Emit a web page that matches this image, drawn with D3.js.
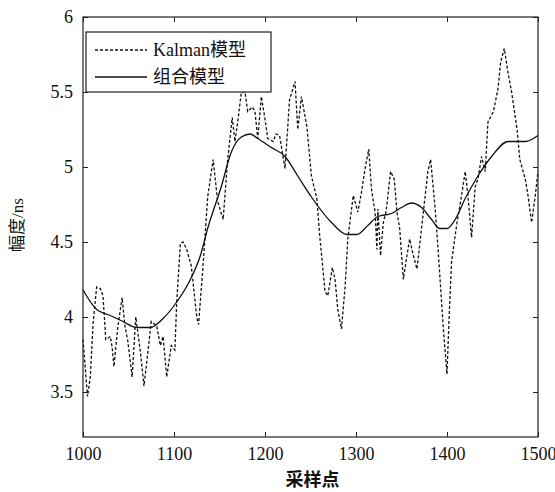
<!DOCTYPE html>
<html>
<head>
<meta charset="utf-8">
<script src="https://cdn.jsdelivr.net/npm/d3@7"></script>
<style>
body{margin:0;background:#fff}
text{font-family:"Liberation Serif","Times New Roman","Noto Sans CJK SC",serif}
</style>
</head>
<body>
<div id="graph1"></div>
<script>
// Kalman model (dashed)
var kalmanX = [1000,1005,1008,1011,1015,1019,1022,1025,1030,1032,1034,1038,1043,1046,1049,1054,1058,1063,1067,1071,
  1075,1081,1085,1088,1092,1097,1101,1103,1107,1110,1114,1119,1125,1127,1132,1137,1143,1148,1154,1159,
  1164,1167,1170,1174,1178,1181,1186,1189,1192,1196,1200,1203,1209,1212,1216,1222,1227,1233,1236,1240,
  1246,1251,1257,1260,1266,1269,1274,1277,1280,1284,1288,1291,1297,1302,1306,1310,1314,1317,1321,1323,
  1324,1327,1330,1333,1338,1342,1345,1348,1352,1356,1359,1363,1367,1372,1379,1382,1387,1390,1396,1400,
  1402,1405,1411,1415,1420,1423,1427,1431,1434,1438,1442,1445,1451,1456,1459,1463,1467,1471,1477,1480,
  1486,1489,1493,1497,1500]
var kalmanY = [3.85,3.47,3.6,3.95,4.2,4.19,4.14,3.85,3.87,3.8,3.67,3.92,4.13,3.94,3.85,3.6,4.0,3.77,3.54,3.75,
  3.97,3.94,3.81,3.87,3.6,3.81,3.78,4.1,4.49,4.5,4.45,4.34,4.0,3.95,4.35,4.8,5.05,4.77,4.65,5.05,
  5.33,5.17,5.3,5.5,5.5,5.37,5.4,5.37,5.19,5.47,5.32,5.19,5.17,5.22,5.21,4.99,5.45,5.57,5.25,5.47,
  5.27,4.94,4.79,4.55,4.17,4.14,4.33,4.25,4.05,3.92,4.2,4.52,4.81,4.7,4.83,4.99,5.12,4.85,4.7,4.45,
  4.72,4.41,4.63,4.7,4.97,4.92,4.7,4.59,4.25,4.41,4.52,4.41,4.32,4.59,4.97,5.05,4.72,4.47,3.92,3.62,
  3.95,4.37,4.63,4.77,4.97,4.81,4.53,4.87,4.92,5.07,4.97,5.3,5.37,5.52,5.7,5.79,5.63,5.5,5.25,5.05,
  4.92,4.81,4.63,4.81,4.97]
// combined model (solid)
var comboX = [1000,1015,1030,1044,1059,1074,1088,1103,1118,1129,1137,1152,1163,1174,1184,1192,1207,1222,1236,1251,
  1273,1290,1301,1313,1324,1339,1350,1361,1372,1383,1392,1400,1409,1420,1434,1449,1467,1486,1500]
var comboY = [4.18,4.05,4.01,3.97,3.93,3.93,3.99,4.1,4.25,4.41,4.59,4.87,5.1,5.2,5.22,5.19,5.13,5.07,4.94,4.8,
  4.63,4.55,4.55,4.61,4.67,4.69,4.73,4.76,4.73,4.65,4.59,4.59,4.65,4.79,4.94,5.07,5.17,5.17,5.21]
var xTicks = [1000,1100,1200,1300,1400,1500]
var yTicks = [3.5,4,4.5,5,5.5,6]
var yTickLabels = ["3.5","4","4.5","5","5.5","6"]
var legendNames = ["Kalman模型","组合模型"]

function draw(){
  var margin = {left:83, right:17, top:17, bottom:55}
  var width = 555 - margin.left - margin.right
  var height = 492 - margin.top - margin.bottom

  var xscale = d3.scaleLinear().domain([1000,1500]).range([0,width])
  var yscale = d3.scaleLinear().domain([3.2,6]).range([height,0])

  var svg = d3.select("#graph1").append("svg")
    .attr("width",555).attr("height",492)
    .append("g")
    .attr("transform","translate("+margin.left+","+margin.top+")")

  var fmt = function(d){ return yTickLabels[yTicks.indexOf(d)] }

  svg.append("g").attr("transform","translate(0,"+height+")")
    .call(d3.axisBottom(xscale).tickValues(xTicks).tickSize(-5).tickPadding(10).tickFormat(d3.format("d")))
  svg.append("g")
    .call(d3.axisTop(xscale).tickValues(xTicks).tickSize(-5).tickFormat(""))
  svg.append("g")
    .call(d3.axisLeft(yscale).tickValues(yTicks).tickSize(-5).tickPadding(10).tickFormat(fmt))
  svg.append("g").attr("transform","translate("+width+",0)")
    .call(d3.axisRight(yscale).tickValues(yTicks).tickSize(-5).tickFormat(""))

  svg.selectAll(".domain").remove()
  svg.selectAll(".tick line").attr("stroke","#222")
  svg.selectAll(".tick text").attr("font-size",18).attr("fill","#111")
    .style("font-family","'Liberation Serif',serif")

  var line = d3.line().x(function(d){return xscale(d[0])}).y(function(d){return yscale(d[1])})
  var kdata = kalmanX.map(function(x,i){return [x,kalmanY[i]]})
  var cdata = comboX.map(function(x,i){return [x,comboY[i]]})

  svg.append("path").datum(kdata)
    .attr("d",line)
    .attr("fill","none").attr("stroke","#111").attr("stroke-width",1.3)
    .attr("stroke-dasharray","3,2")
  svg.append("path").datum(cdata)
    .attr("d",line.curve(d3.curveMonotoneX))
    .attr("fill","none").attr("stroke","#111").attr("stroke-width",1.3)

  svg.append("rect").attr("x",0).attr("y",0).attr("width",width).attr("height",height)
    .attr("fill","none").attr("stroke","#222").attr("stroke-width",1.2)

  // legend
  var lg = svg.append("g").attr("transform","translate(3,15)")
  lg.append("rect").attr("x",0).attr("y",0).attr("width",185).attr("height",60)
    .attr("fill","#fff").attr("stroke","#222").attr("stroke-width",1.2)
  legendNames.forEach(function(name,i){
    var yy = 18 + i*27
    lg.append("line").attr("x1",9).attr("x2",61).attr("y1",yy).attr("y2",yy)
      .attr("stroke","#111").attr("stroke-width",1.3)
      .attr("stroke-dasharray", i==0 ? "3,2" : null)
    lg.append("text").attr("x",67).attr("y",yy+6).attr("font-size",18).attr("fill","#111")
      .text(name)
  })

  // axis titles
  svg.append("text").attr("x",width/2+2).attr("y",height+49)
    .attr("text-anchor","middle").attr("font-size",18).attr("fill","#111")
    .style("font-family","'Noto Sans CJK SC',sans-serif").attr("font-weight","bold")
    .text("采样点")
  svg.append("text").attr("transform","rotate(-90)")
    .attr("x",-208).attr("y",-60)
    .attr("text-anchor","middle").attr("font-size",17).attr("fill","#111")
    .text("幅度/ns")
}

draw()
</script>
</body>
</html>
